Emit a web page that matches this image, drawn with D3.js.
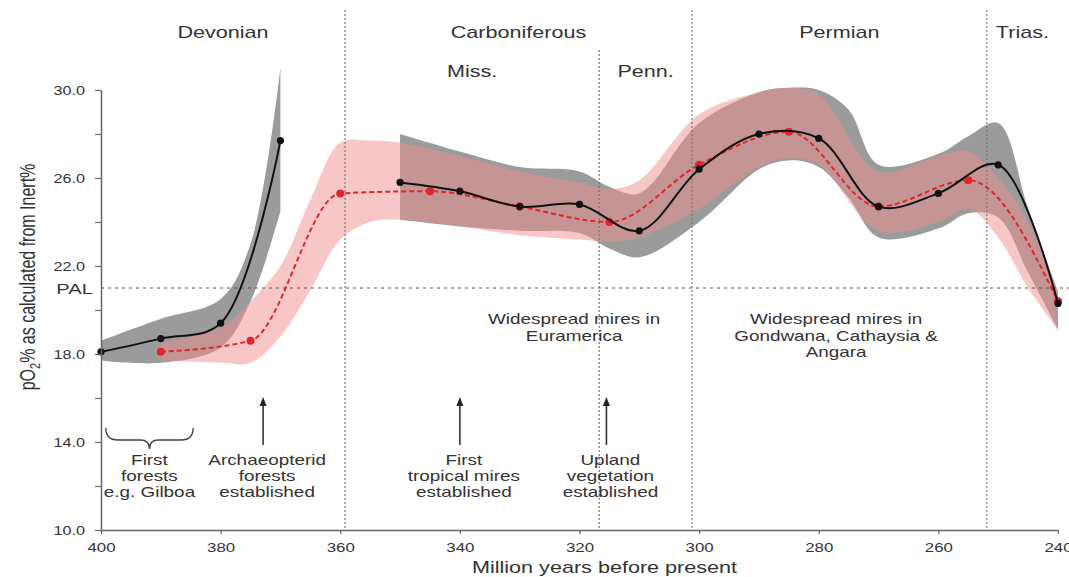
<!DOCTYPE html>
<html>
<head>
<meta charset="utf-8">
<script src="https://cdn.jsdelivr.net/npm/d3@7"></script>
<style>
  body { margin: 0; background: #fff; }
  svg { display: block; }
  text { font-family: "Liberation Sans", Arial, sans-serif; fill: #333; }
</style>
</head>
<body>
<svg id="chart" width="1069" height="577"></svg>
<script>
// Atmospheric O2 (pO2 %) through the Devonian–Triassic, calculated from inertinite %.

// Black series (solid) — null marks the break in the record
const blackAge = [400, 390, 380, 370, 360, 350, 340, 330, 320, 310, 300, 290, 280, 270, 260, 250, 240];
const blackO2  = [18.1, 18.7, 19.4, 27.7, null, 25.8, 25.4, 24.7, 24.8, 23.6, 26.4, 28.0, 27.8, 24.7, 25.3, 26.6, 20.3];

// Red series (dashed)
const redAge = [390, 375, 360, 345, 330, 315, 300, 285, 270, 255, 240];
const redO2  = [18.1, 18.6, 25.3, 25.4, 24.7, 24.0, 26.6, 28.1, 24.7, 25.9, 20.4];

// Grey uncertainty envelope, in two parts
const greyAgeA = [400, 390, 380, 375, 370];
const greyLoA  = [17.7, 17.6, 18.3, 20.4, 24.5];
const greyHiA  = [18.6, 19.6, 20.5, 23.0, 31.0];

const greyAgeB = [350, 340, 330, 320, 315, 310, 300, 290, 285, 280, 275, 270, 260, 255, 250, 245, 240];
const greyLoB  = [24.1, 23.8, 23.6, 23.5, 22.8, 22.4, 24.0, 26.4, 26.8, 26.5, 25.1, 23.3, 23.7, 24.4, 24.2, 21.7, 19.1];
const greyHiB  = [28.0, 27.2, 26.5, 26.3, 25.6, 25.3, 28.5, 29.9, 30.1, 30.0, 29.1, 26.6, 27.1, 27.9, 28.5, 24.6, 20.8];

// Pink uncertainty envelope
const pinkAge = [390, 380, 375, 370, 365, 360, 355, 350, 340, 330, 320, 315, 310, 300, 290, 285, 280, 270, 260, 255, 250, 245, 240];
const pinkLo  = [17.7, 17.6, 17.6, 18.8, 20.9, 23.2, 24.0, 24.1, 23.8, 23.4, 23.2, 23.1, 23.3, 24.6, 26.5, 26.9, 26.6, 23.6, 24.0, 24.6, 23.3, 21.0, 19.1];
const pinkHi  = [18.5, 19.2, 20.4, 22.0, 25.0, 27.6, 27.7, 27.6, 27.0, 26.3, 25.8, 25.5, 25.9, 28.9, 29.9, 30.1, 29.8, 26.3, 27.0, 27.2, 26.0, 24.0, 20.9];

// Axis ticks
const xTicks = [400, 380, 360, 340, 320, 300, 280, 260, 240];
const yTicks = [10, 12, 14, 16, 18, 20, 22, 24, 26, 28, 30];
const yTickLabels = [10, 14, 18, 22, 26, 30];
const palLevel = 21;

// Geological time divisions (Ma)
const periodBounds = [400, 359.2, 301.2, 251.9, 240];
const periodNames = ["Devonian", "Carboniferous", "Permian", "Trias."];
const subBounds = [359.2, 316.7, 301.2];
const subNames = ["Miss.", "Penn."];

// Annotations
const mireNotes = [
  { age: 320.9, lines: ["Widespread mires in", "Euramerica"] },
  { age: 277.1, lines: ["Widespread mires in", "Gondwana, Cathaysia &", "Angara"] }
];
const eventNotes = [
  { age: 372.9, lines: ["Archaeopterid", "forests", "established"] },
  { age: 340.0, lines: ["First", "tropical mires", "established"] },
  { age: 315.5, lines: ["Upland", "vegetation", "established"] }
];
const braceNote = { from: 399.2, to: 384.6, lines: ["First", "forests", "e.g. Gilboa"] };

// ---------------------------------------------------------------
const SX = 1.35; // horizontal text stretch used throughout
const svg = d3.select("#chart");

const x = d3.scaleLinear().domain([400, 240]).range([101, 1058]);
const y = d3.scaleLinear().domain([10, 30]).range([530, 90]);

function stretchedText(g, px, py, str, size, anchor = "middle") {
  return g.append("text")
    .attr("transform", `translate(${px},${py}) scale(${SX},1)`)
    .attr("text-anchor", anchor)
    .style("font-size", size + "px")
    .text(str);
}

const rows = (ages, lo, hi) => ages.map((a, i) => ({ age: a, lo: lo[i], hi: hi[i] }));
const pts = (ages, vals) => ages.map((a, i) => ({ age: a, v: vals[i] }));

const band = d3.area()
  .x(d => x(d.age)).y0(d => y(d.lo)).y1(d => y(d.hi))
  .curve(d3.curveCatmullRom.alpha(0.5));

// Envelopes
const gBands = svg.append("g");
[rows(greyAgeA, greyLoA, greyHiA), rows(greyAgeB, greyLoB, greyHiB)].forEach(d => {
  gBands.append("path").attr("d", band(d)).attr("fill", "#9b9b9b");
});
gBands.append("path").attr("d", band(rows(pinkAge, pinkLo, pinkHi)))
  .attr("fill", "#ef8f8f").attr("fill-opacity", 0.5);

// Period boundaries
const gDiv = svg.append("g").attr("stroke", "#7a7a7a").attr("stroke-width", 1.2).attr("stroke-dasharray", "2,2");
periodBounds.slice(1, -1).forEach(b => {
  gDiv.append("line").attr("x1", x(b)).attr("x2", x(b)).attr("y1", 10).attr("y2", y(10));
});
gDiv.append("line").attr("x1", x(subBounds[1])).attr("x2", x(subBounds[1])).attr("y1", 50).attr("y2", y(10));

// PAL reference line
svg.append("line")
  .attr("x1", x(400)).attr("x2", 1069).attr("y1", y(palLevel)).attr("y2", y(palLevel))
  .attr("stroke", "#555").attr("stroke-width", 1).attr("stroke-dasharray", "3,4");

// Lines
const blackLine = d3.line().defined(d => d.v != null)
  .x(d => x(d.age)).y(d => y(d.v)).curve(d3.curveCatmullRom.alpha(0.5));
const redLine = d3.line().x(d => x(d.age)).y(d => y(d.v)).curve(d3.curveMonotoneX);

const blackPts = pts(blackAge, blackO2);
const redPts = pts(redAge, redO2);

svg.append("path").attr("d", redLine(redPts)).attr("fill", "none")
  .attr("stroke", "#e0262b").attr("stroke-width", 2).attr("stroke-dasharray", "5,3");
svg.append("g").selectAll("circle").data(redPts).join("circle")
  .attr("cx", d => x(d.age)).attr("cy", d => y(d.v)).attr("r", 4).attr("fill", "#e0262b");

svg.append("path").attr("d", blackLine(blackPts)).attr("fill", "none")
  .attr("stroke", "#111").attr("stroke-width", 2);
svg.append("g").selectAll("circle").data(blackPts.filter(d => d.v != null)).join("circle")
  .attr("cx", d => x(d.age)).attr("cy", d => y(d.v)).attr("r", 3.6).attr("fill", "#111");

// Axes
const yAxis = svg.append("g").attr("transform", `translate(${x(400)},0)`)
  .call(d3.axisLeft(y).tickValues(yTicks).tickSize(6).tickSizeOuter(0)
    .tickFormat(d => yTickLabels.includes(d) ? d.toFixed(1) : ""));
yAxis.select(".domain").attr("stroke", "#666").attr("stroke-width", 1.5);
yAxis.selectAll(".tick line").attr("stroke", "#666").attr("stroke-width", 1.2);
yAxis.selectAll(".tick text")
  .attr("x", 0).attr("dy", "0.35em")
  .attr("transform", `translate(-16,0) scale(${SX},1)`)
  .style("font-size", "12px").style("font-family", null).attr("fill", "#333");

const xAxis = svg.append("g").attr("transform", `translate(0,${y(10)})`)
  .call(d3.axisBottom(x).tickValues(xTicks).tickSize(4).tickSizeOuter(0).tickFormat(d3.format("d")));
xAxis.select(".domain").attr("stroke", "#666").attr("stroke-width", 1.5);
xAxis.selectAll(".tick line").attr("stroke", "#666").attr("stroke-width", 1.2);
xAxis.selectAll(".tick text")
  .attr("y", 0).attr("dy", 0)
  .attr("transform", `translate(0,22) scale(${SX},1)`)
  .style("font-size", "12.5px").style("font-family", null).attr("fill", "#333");

// PAL label
stretchedText(svg, 93, y(palLevel) + 5.5, "PAL", 15, "end");

// Axis titles
stretchedText(svg, (x(400) + x(240)) / 2 + 25, 573, "Million years before present", 16);
const yTitle = svg.append("text")
  .attr("transform", `translate(35,277) scale(${SX},1) rotate(-90)`)
  .attr("text-anchor", "middle").style("font-size", "16px");
yTitle.append("tspan").text("pO");
yTitle.append("tspan").attr("dy", 4).style("font-size", "11px").text("2");
yTitle.append("tspan").attr("dy", -4).text("% as calculated from Inert%");

// Period names
periodNames.forEach((n, i) => {
  stretchedText(svg, x((periodBounds[i] + periodBounds[i + 1]) / 2), 38, n, 16);
});
subNames.forEach((n, i) => {
  stretchedText(svg, x((subBounds[i] + subBounds[i + 1]) / 2), 77, n, 16);
});

// Mire notes
mireNotes.forEach(m => {
  m.lines.forEach((l, i) => stretchedText(svg, x(m.age), 324 + i * 16.5, l, 14));
});

// Event notes with arrows
const gEv = svg.append("g");
eventNotes.forEach(e => {
  const ax = x(e.age) - (e.age === 372.9 ? 0 : 0);
  gEv.append("line").attr("x1", ax).attr("x2", ax).attr("y1", 445).attr("y2", 404)
    .attr("stroke", "#333").attr("stroke-width", 1.6);
  gEv.append("path").attr("d", `M${ax - 3.5},406 L${ax},397 L${ax + 3.5},406 Z`).attr("fill", "#222");
  e.lines.forEach((l, i) => stretchedText(gEv, x(e.age) + 4, 465 + i * 16, l, 14));
});

// Brace for first forests
const bx0 = x(braceNote.from), bx1 = x(braceNote.to), bm = (bx0 + bx1) / 2;
svg.append("path")
  .attr("d", `M${bx0},428 Q${bx0},440 ${bx0 + 12},440 L${bm - 9},440 Q${bm},440 ${bm},449 Q${bm},440 ${bm + 9},440 L${bx1 - 12},440 Q${bx1},440 ${bx1},428`)
  .attr("fill", "none").attr("stroke", "#444").attr("stroke-width", 1.4);
braceNote.lines.forEach((l, i) => stretchedText(svg, bm, 465 + i * 16, l, 14));
</script>
</body>
</html>
